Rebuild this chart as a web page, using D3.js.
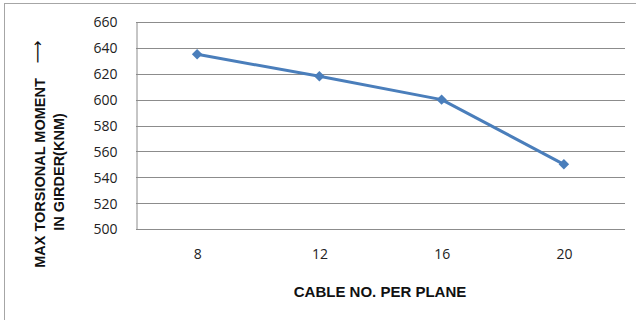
<!DOCTYPE html>
<html>
<head>
<meta charset="utf-8">
<script src="https://cdn.jsdelivr.net/npm/d3@7"></script>
<style>
  html, body { margin: 0; padding: 0; background: #fff; }
  svg { display: block; }
</style>
</head>
<body>
<svg id="chart" width="636" height="320"></svg>
<script>
// Cable count per plane vs. maximum torsional moment in the girder
const cables = ["8", "12", "16", "20"];
const torsion = [635, 618, 600, 550];
const yTicks = [500, 520, 540, 560, 580, 600, 620, 640, 660];

const W = 636, H = 320;
const plot = { left: 136, right: 625, top: 22, bottom: 229 };
const tickFont = "'Open Sans', 'Liberation Sans', sans-serif";
const titleFont = "'Liberation Sans', Arial, sans-serif";
const lineBlue = "#4a7ebb";
const gridGrey = "#8c8c8c";

const svg = d3.select("#chart");

// outer chart frame
svg.append("rect")
  .attr("x", 4.5).attr("y", 3.5)
  .attr("width", W + 10).attr("height", H + 10)
  .attr("fill", "#fff").attr("stroke", "#a6a6a6").attr("stroke-width", 1);

const x = d3.scalePoint().domain(cables)
  .range([plot.left, plot.right]).padding(0.5);
const y = d3.scaleLinear().domain([500, 660])
  .range([plot.bottom, plot.top]);

// horizontal gridlines
svg.append("g")
  .selectAll("line").data(yTicks).join("line")
  .attr("x1", plot.left).attr("x2", plot.right)
  .attr("y1", d => Math.round(y(d)) + 0.5).attr("y2", d => Math.round(y(d)) + 0.5)
  .attr("stroke", gridGrey).attr("stroke-width", 1);

// value axis
const yAxis = svg.append("g")
  .attr("transform", `translate(${plot.left + 0.5},0.5)`)
  .call(d3.axisLeft(y).tickValues(yTicks).tickSize(0).tickPadding(19));
yAxis.select(".domain").attr("stroke", gridGrey);
yAxis.selectAll("text")
  .attr("font-family", tickFont).attr("font-size", 14).attr("fill", "#222");

// category axis labels
const xAxis = svg.append("g")
  .attr("transform", `translate(0,${plot.bottom})`)
  .call(d3.axisBottom(x).tickSize(0).tickPadding(20));
xAxis.select(".domain").remove();
xAxis.selectAll("text")
  .attr("font-family", tickFont).attr("font-size", 14).attr("fill", "#222");

// series line
svg.append("path")
  .datum(torsion)
  .attr("fill", "none")
  .attr("stroke", lineBlue).attr("stroke-width", 3)
  .attr("stroke-linejoin", "round")
  .attr("d", d3.line().x((d, i) => x(cables[i])).y(d => y(d)));

// diamond markers
svg.append("g")
  .selectAll("path").data(torsion).join("path")
  .attr("transform", (d, i) => `translate(${x(cables[i])},${y(d)})`)
  .attr("d", d3.symbol().type(d3.symbolDiamond2).size(70))
  .attr("fill", lineBlue);

// axis titles
svg.append("text")
  .attr("x", 380).attr("y", 297)
  .attr("text-anchor", "middle")
  .attr("font-family", titleFont).attr("font-size", 15).attr("font-weight", "bold")
  .attr("fill", "#111")
  .text("CABLE NO. PER PLANE");

const yTitle = svg.append("g")
  .attr("font-family", titleFont).attr("font-size", 14.5).attr("font-weight", "bold")
  .attr("fill", "#111");
yTitle.append("text")
  .attr("transform", "translate(45,173) rotate(-90)")
  .attr("text-anchor", "middle")
  .text("MAX TORSIONAL MOMENT");
yTitle.append("text")
  .attr("transform", "translate(64,172) rotate(-90)")
  .attr("text-anchor", "middle")
  .text("IN GIRDER(KNM)");
yTitle.append("text")
  .attr("transform", "translate(43,52) rotate(-90)")
  .attr("text-anchor", "middle")
  .attr("font-family", "'DejaVu Sans', sans-serif")
  .attr("font-weight", "normal").attr("font-size", 16)
  .text("\u27F6");
</script>
</body>
</html>
